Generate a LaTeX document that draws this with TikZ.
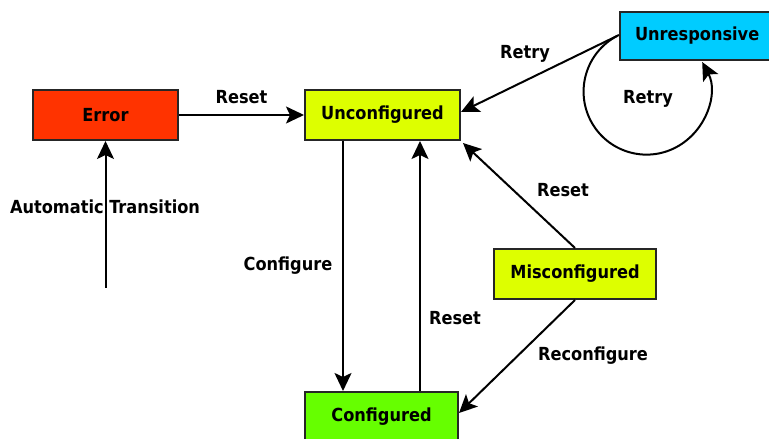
\documentclass[tikz,border=0pt]{standalone}
\usepackage{fontspec}
\setmainfont{DejaVu Sans Condensed}
\usetikzlibrary{arrows.meta}
\definecolor{errred}{HTML}{FF3300}
\definecolor{lime}{HTML}{DDFF00}
\definecolor{okgreen}{HTML}{66FF00}
\definecolor{skyblue}{HTML}{00CCFF}
\tikzset{
  state/.style={draw=black!85, line width=2pt, minimum height=50pt, inner sep=0pt,
    font=\fontsize{18}{21}\selectfont\bfseries},
  trans/.style={line width=2pt, -{Stealth[length=18pt,width=17pt,inset=4pt]}},
  lbl/.style={font=\fontsize{18}{21}\selectfont\bfseries, inner sep=0pt}
}
\begin{document}
\begin{tikzpicture}[x=1pt,y=1pt]
\useasboundingbox (0,0) rectangle (769,439);
\begin{scope}
\clip (0,0) rectangle (769,439);
% states
\node[state, fill=errred, minimum width=145pt] (err) at (105.5,324) {Error};
\node[state, fill=lime, minimum width=155pt] (unconf) at (382.5,324) {Unconfigured};
\node[state, fill=skyblue, minimum width=160pt, minimum height=48pt, text width=160pt, align=left] (unresp) at (700,403) {\hspace*{15pt}Unresponsive};
\node[state, fill=lime, minimum width=162pt] (misconf) at (575,165) {Misconfigured};
\node[state, fill=okgreen, minimum width=153pt] (conf) at (381.5,22) {Configured};
\end{scope}

% entry point of the automatic transition
\coordinate (auto) at (105.5,151);

% transitions
\draw[trans] (err.east) -- node[lbl, above=10pt] {Reset} (unconf.west);
\draw[trans] (auto) -- (err.south);
\node[lbl] (autolbl) at (105,232) {Automatic Transition};
\draw[trans] ([xshift=-39.5pt]unconf.south) -- ([xshift=-38.5pt]conf.north);
\node[lbl] (cfglbl) at (288,173) {Configure};
\draw[trans] ([xshift=38.5pt]conf.north) -- ([xshift=37.5pt]unconf.south);
\node[lbl] (rst1) at (455,121) {Reset};
\draw[trans] (misconf.north) -- ([shift={(2pt,-2pt)}]unconf.south east);
\node[lbl] (rst2) at (563,249) {Reset};
\draw[trans] (misconf.south) -- ([yshift=4pt]conf.east);
\node[lbl] (recfg) at (593,83) {Reconfigure};
\draw[trans] ([yshift=1pt]unresp.west) -- ([yshift=3pt]unconf.east);
\node[lbl] (retry1) at (525,385) {Retry};
% self loop on the unresponsive state
\draw[trans] ([xshift=-2pt]unresp.west) arc[start angle=118, end angle=388, radius=63pt];
\node[lbl] (retry2) at (648,340) {Retry};
\end{tikzpicture}
\end{document}
